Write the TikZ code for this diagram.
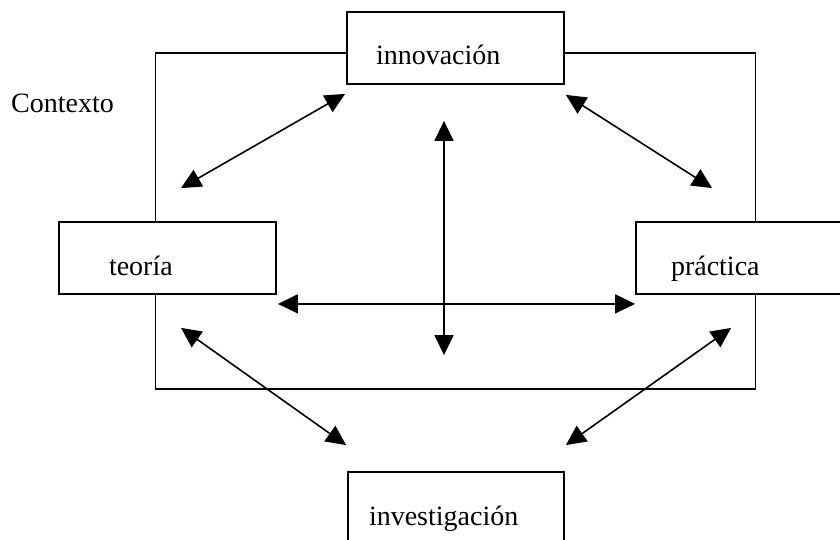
\documentclass[tikz,border=0pt]{standalone}
\usepackage{fontspec}
\setmainfont{Liberation Serif}
\usepackage{xcolor}
\usetikzlibrary{calc,arrows.meta}
\definecolor{ink}{HTML}{000000}
\definecolor{paper}{HTML}{FFFFFF}
\tikzset{
  marco/.style={draw=ink, line width=1.8pt},
  caja/.style={draw=ink, fill=paper, line width=1.8pt, rectangle, align=left,
    inner ysep=0pt, text height=53pt, text depth=19pt, font=\fontsize{28}{34}\selectfont},
  flecha/.style={draw=ink, line width=1.6pt, >={Triangle[length=20pt,width=19pt]}, <->},
  lab/.style={text=ink, font=\fontsize{28}{34}\selectfont},
}

\begin{document}
\begin{tikzpicture}[x=1pt,y=-1pt]
  \useasboundingbox (0,0) rectangle (840,540);
  \clip (0,0) rectangle (840,540);

  % contexto
  \draw[marco] (155.5,53) rectangle (755.5,389);
  \node[lab, anchor=base west, inner sep=0pt] (ctx) at (11,113) {Contexto};

  \node[caja, inner xsep=29pt, text width=159pt] (inn) at (455.5,48) {innovación};
  \node[caja, inner xsep=50pt, text width=117pt] (teo) at (167.5,258) {teoría};
  \node[caja, inner xsep=35pt, text width=147pt] (pra) at (744.5,258) {práctica};
  \node[caja, inner xsep=21pt, text width=174pt] (inv) at (456,508) {investigación};

  \draw[flecha] ($(inn.south west)+(-1,9)$) -- ($(teo.north)+(13.5,-33)$);
  \draw[flecha] ($(inn.south east)+(1,10)$) -- ($(pra.north west)+(77,-33)$);
  \draw[flecha] ($(inn.south)+(-11.5,36)$) -- ($(inv.north)+(-12,-116)$);
  \draw[flecha] ($(teo.south east)+(1,9)$) -- ($(pra.south west)+(0,9)$);
  \draw[flecha] ($(teo.south)+(13.5,33)$) -- ($(inv.north west)+(-1,-26)$);
  \draw[flecha] ($(pra.south west)+(96,33)$) -- ($(inv.north east)+(1,-26)$);
\end{tikzpicture}
\end{document}
